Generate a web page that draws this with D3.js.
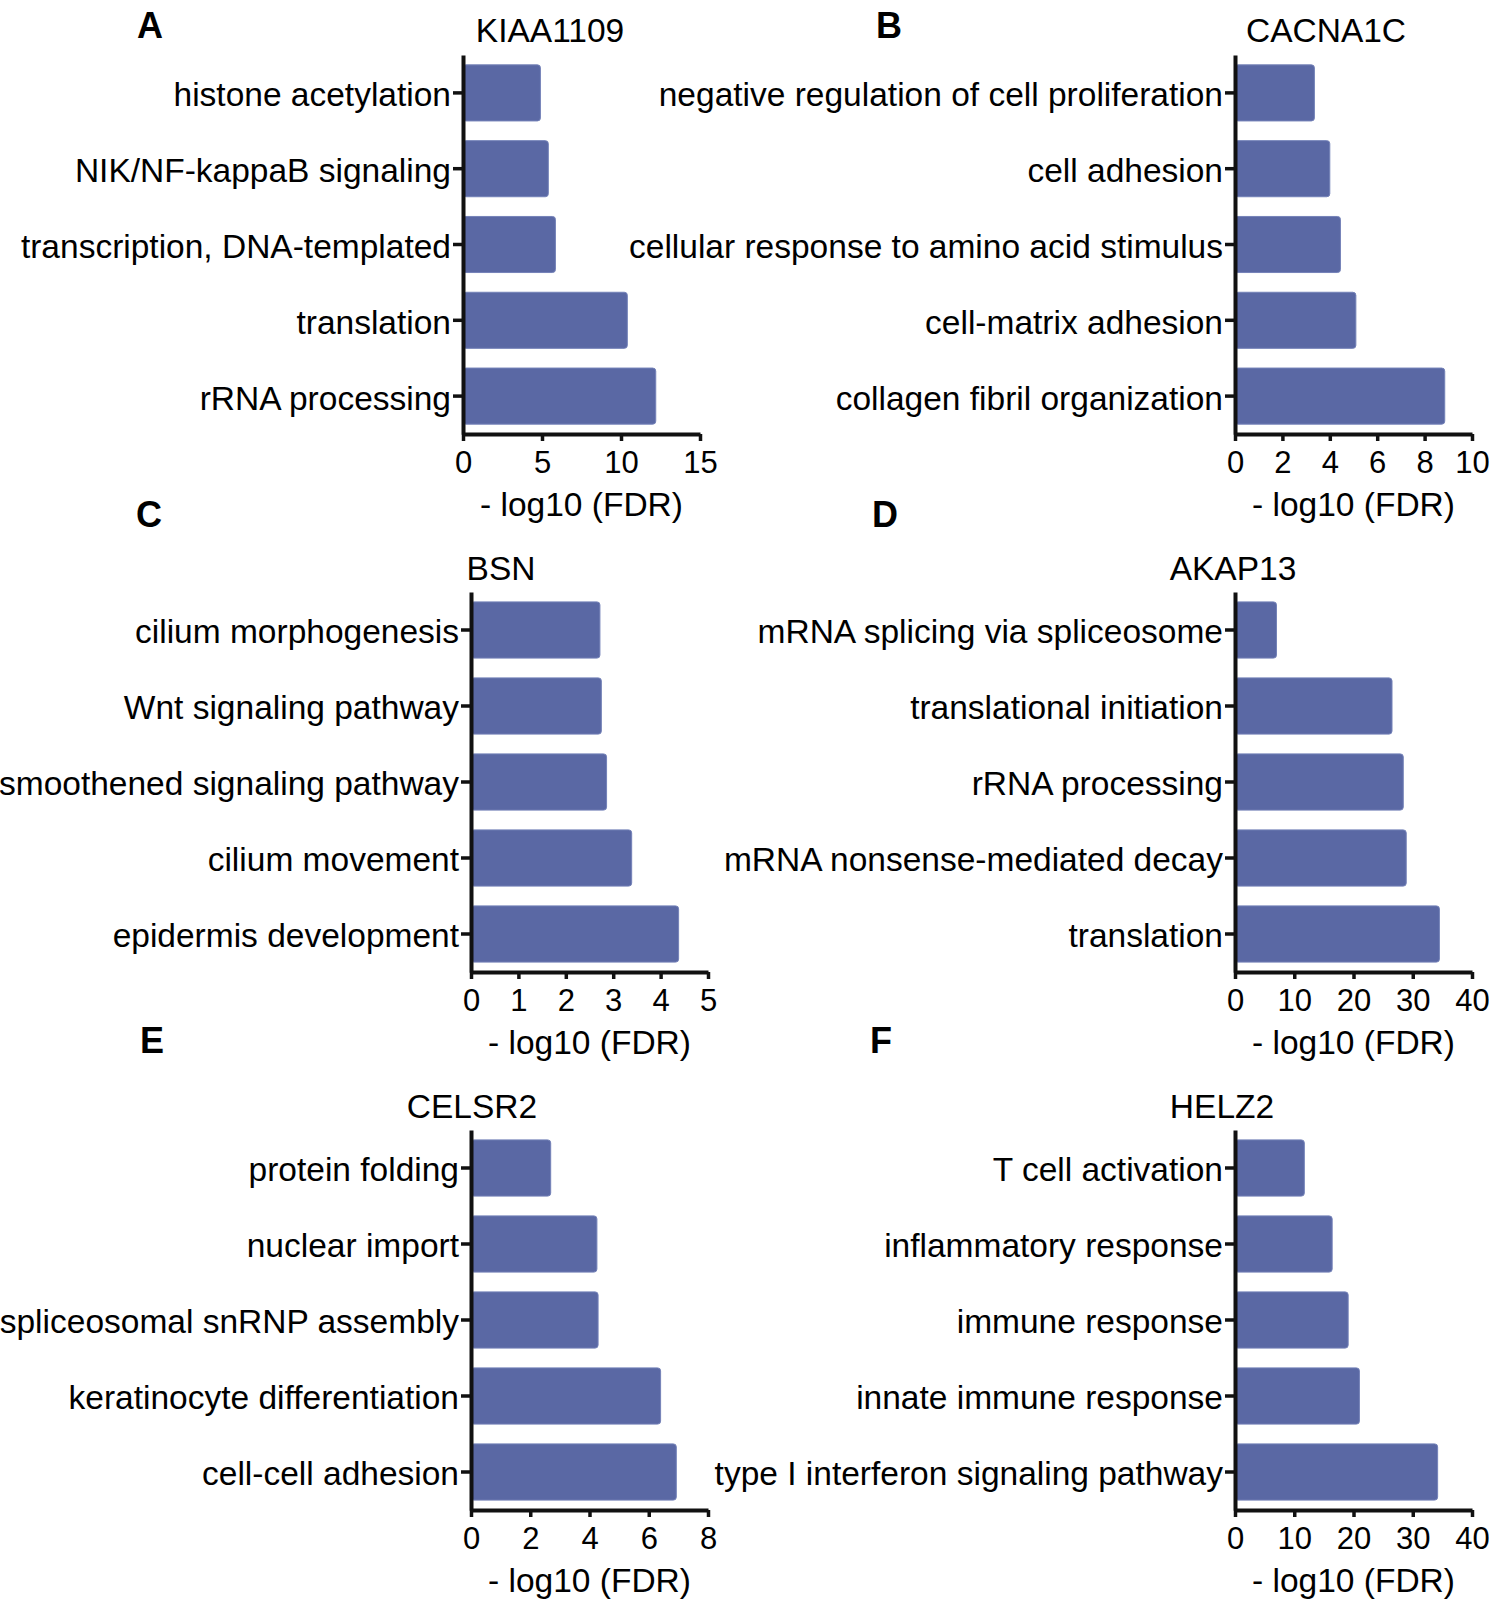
<!DOCTYPE html>
<html>
<head>
<meta charset="utf-8">
<script src="https://cdn.jsdelivr.net/npm/d3@7"></script>
<style>
  body { margin: 0; background: #fff; }
  svg text { font-family: "Liberation Sans", Arial, sans-serif; fill: #000; }
</style>
</head>
<body>
<div id="chart-area"></div>
<script>
// GO terms and -log10(FDR) per gene
var catsA = ["histone acetylation", "NIK/NF-kappaB signaling", "transcription, DNA-templated", "translation", "rRNA processing"];
var valsA = [4.9, 5.4, 5.85, 10.4, 12.2];
var ticksA = [0, 5, 10, 15];

var catsB = ["negative regulation of cell proliferation", "cell adhesion", "cellular response to amino acid stimulus", "cell-matrix adhesion", "collagen fibril organization"];
var valsB = [3.35, 4.0, 4.45, 5.1, 8.85];
var ticksB = [0, 2, 4, 6, 8, 10];

var catsC = ["cilium morphogenesis", "Wnt signaling pathway", "smoothened signaling pathway", "cilium movement", "epidermis development"];
var valsC = [2.72, 2.75, 2.86, 3.39, 4.38];
var ticksC = [0, 1, 2, 3, 4, 5];

var catsD = ["mRNA splicing via spliceosome", "translational initiation", "rRNA processing", "mRNA nonsense-mediated decay", "translation"];
var valsD = [7.0, 26.5, 28.4, 28.9, 34.5];
var ticksD = [0, 10, 20, 30, 40];

var catsE = ["protein folding", "nuclear import", "spliceosomal snRNP assembly", "keratinocyte differentiation", "cell-cell adhesion"];
var valsE = [2.69, 4.25, 4.29, 6.4, 6.93];
var ticksE = [0, 2, 4, 6, 8];

var catsF = ["T cell activation", "inflammatory response", "immune response", "innate immune response", "type I interferon signaling pathway"];
var valsF = [11.7, 16.4, 19.1, 21.0, 34.2];
var ticksF = [0, 10, 20, 30, 40];

var genes = ["KIAA1109", "CACNA1C", "BSN", "AKAP13", "CELSR2", "HELZ2"];
var letters = ["A", "B", "C", "D", "E", "F"];

var W = 1489, H = 1603;
var plotW = 237;

// where each panel sits on the page
var layout = [
    {x0: 463,  top: 55,   bottom: 434,  titleX: 550,  titleY: 42,   letterX: 137, letterY: 38},
    {x0: 1235, top: 55,   bottom: 434,  titleX: 1326, titleY: 42,   letterX: 876, letterY: 38},
    {x0: 471,  top: 592,  bottom: 972,  titleX: 501,  titleY: 580,  letterX: 136, letterY: 527},
    {x0: 1235, top: 592,  bottom: 972,  titleX: 1233, titleY: 580,  letterX: 872, letterY: 527},
    {x0: 471,  top: 1130, bottom: 1510, titleX: 472,  titleY: 1118, letterX: 140, letterY: 1053},
    {x0: 1235, top: 1130, bottom: 1510, titleX: 1222, titleY: 1118, letterX: 870, letterY: 1053}
];

var panels = [
    {cats: catsA, vals: valsA, ticks: ticksA},
    {cats: catsB, vals: valsB, ticks: ticksB},
    {cats: catsC, vals: valsC, ticks: ticksC},
    {cats: catsD, vals: valsD, ticks: ticksD},
    {cats: catsE, vals: valsE, ticks: ticksE},
    {cats: catsF, vals: valsF, ticks: ticksF}
];

var svg = d3.select("#chart-area")
    .append("svg")
        .attr("width", W)
        .attr("height", H);

panels.forEach(function(p, i){
    var L = layout[i];
    var g = svg.append("g")
        .attr("transform", "translate(" + L.x0 + ",0)");

    var x = d3.scaleLinear()
        .domain([p.ticks[0], p.ticks[p.ticks.length - 1]])
        .range([0, plotW]);

    var y = d3.scaleBand()
        .domain(p.cats)
        .range([L.top, L.bottom])
        .paddingInner(0.26)
        .paddingOuter(0.13);

    var data = p.cats.map(function(c, k){
        return {cat: c, val: p.vals[k]};
    });

    g.selectAll("rect")
        .data(data)
        .enter()
        .append("rect")
            .attr("x", x(0))
            .attr("y", function(d){ return y(d.cat); })
            .attr("width", function(d){ return x(d.val) - x(0); })
            .attr("height", y.bandwidth())
            .attr("rx", 3)
            .attr("fill", "#5a68a4")
            .attr("stroke", "#7482b8")
            .attr("stroke-width", 1);

    // Y axis
    var yAxis = g.append("g")
        .call(d3.axisLeft(y).tickSize(10).tickSizeOuter(0).tickPadding(2));
    yAxis.select(".domain").attr("stroke-width", 4).attr("stroke", "#111");
    yAxis.selectAll(".tick line").attr("stroke-width", 3.5).attr("stroke", "#111");
    yAxis.selectAll(".tick text")
        .attr("font-size", "33.5px")
        .attr("dy", "0.4em");

    // X axis
    var xAxis = g.append("g")
        .attr("transform", "translate(0," + L.bottom + ")")
        .call(d3.axisBottom(x)
            .tickValues(p.ticks)
            .tickFormat(d3.format("d"))
            .tickSize(7)
            .tickSizeOuter(0)
            .tickPadding(10));
    xAxis.select(".domain").attr("stroke-width", 4).attr("stroke", "#111");
    xAxis.selectAll(".tick line").attr("stroke-width", 3.5).attr("stroke", "#111");
    xAxis.selectAll(".tick text").attr("font-size", "31px");

    g.append("text")
        .attr("x", plotW / 2)
        .attr("y", L.bottom + 82)
        .attr("font-size", "33.5px")
        .attr("text-anchor", "middle")
        .text("- log10 (FDR)");

    svg.append("text")
        .attr("x", L.titleX)
        .attr("y", L.titleY)
        .attr("font-size", "33.5px")
        .attr("text-anchor", "middle")
        .text(genes[i]);

    svg.append("text")
        .attr("x", L.letterX)
        .attr("y", L.letterY)
        .attr("font-size", "36px")
        .attr("font-weight", "bold")
        .text(letters[i]);
});
</script>
</body>
</html>
